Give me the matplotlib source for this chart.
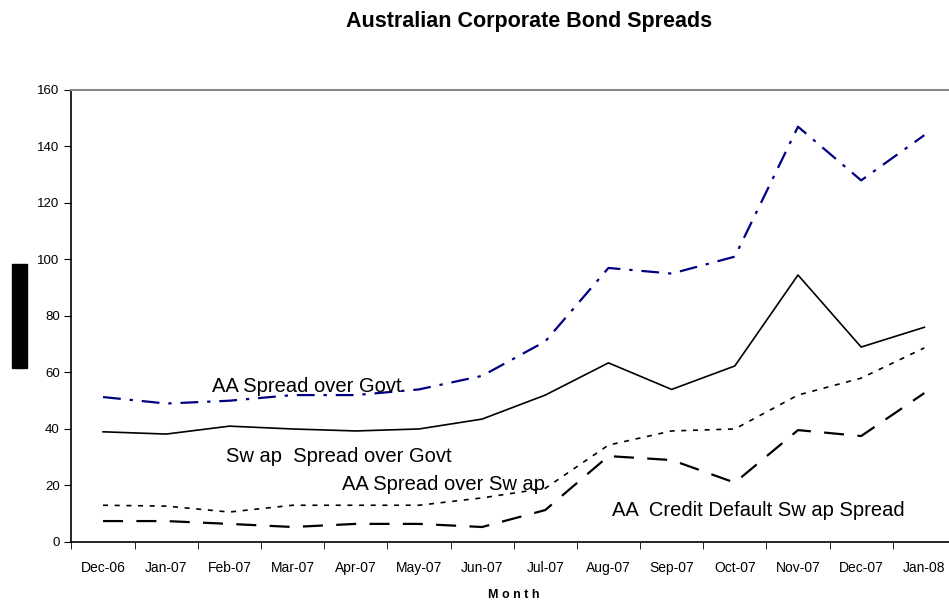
import numpy as np
import matplotlib.pyplot as plt
from matplotlib.patches import Rectangle

months = ["Dec-06", "Jan-07", "Feb-07", "Mar-07", "Apr-07", "May-07", "Jun-07",
          "Jul-07", "Aug-07", "Sep-07", "Oct-07", "Nov-07", "Dec-07", "Jan-08"]

aa_over_govt = [51.3, 49, 50, 52, 52, 54, 58.8, 71, 97, 95, 101, 147, 128, 144]
swap_over_govt = [39, 38.2, 41, 40, 39.3, 40, 43.5, 52, 63.4, 54, 62.3, 94.5, 69, 76]
aa_over_swap = [13, 12.7, 10.6, 13, 13, 13, 15.6, 19, 34.3, 39.3, 40, 52, 58, 68.7]
aa_cds = [7.4, 7.4, 6.4, 5.3, 6.4, 6.4, 5.3, 11.3, 30.4, 29, 21, 39.6, 37.5, 52.7]

plt.rcParams['font.family'] = ['Liberation Sans', 'DejaVu Sans']

fig = plt.figure(figsize=(9.49, 6.03), dpi=100)
ax = fig.add_axes([0.0753, 0.1012, 0.932, 0.7496])

x = np.arange(len(months))
ax.plot(x, aa_over_govt, color='#000080', lw=1.6, dashes=(8, 4, 1.5, 4))
ax.plot(x, swap_over_govt, color='black', lw=1.2)
ax.plot(x, aa_over_swap, color='black', lw=1.2, dashes=(3, 4))
ax.plot(x, aa_cds, color='black', lw=1.6, dashes=(9, 6))

ax.set_xlim(-0.5, 13.5)
ax.set_ylim(0, 160)
ax.set_yticks(range(0, 161, 20))
ax.set_xticks(x)
ax.set_xticklabels(months, fontsize=10)
ax.set_xticks(np.arange(-0.5, 14, 1), minor=True)
ax.tick_params(axis='x', which='major', length=0, pad=14)
ax.tick_params(axis='x', which='minor', length=5, direction='out')
ax.tick_params(axis='y', length=5, direction='out', labelsize=9.5)

ax.spines['top'].set_color('#888888')
ax.spines['top'].set_linewidth(1.5)
ax.spines['right'].set_visible(False)
ax.spines['left'].set_linewidth(1.2)
ax.spines['bottom'].set_linewidth(1.2)

ax.text(1.72, 55.2, "AA Spread over Govt", fontsize=14.5, va='center')
ax.text(1.94, 30.4, "Sw ap  Spread over Govt", fontsize=14.5, va='center')
ax.text(3.78, 20.2, "AA Spread over Sw ap", fontsize=14.5, va='center')
ax.text(8.05, 11.0, "AA  Credit Default Sw ap Spread", fontsize=14.5, va='center')

ax.set_xlabel("M o n t h", fontsize=9, fontweight='bold', labelpad=10)
fig.text(0.558, 0.965, "Australian Corporate Bond Spreads", fontsize=15.5,
         fontweight='bold', ha='center', va='center')

# black box where the y label sits
fig.patches.append(Rectangle((0.0126, 0.3897), 0.0158, 0.1725,
                             transform=fig.transFigure, color='black'))

fig.savefig("out.png", dpi=100)
